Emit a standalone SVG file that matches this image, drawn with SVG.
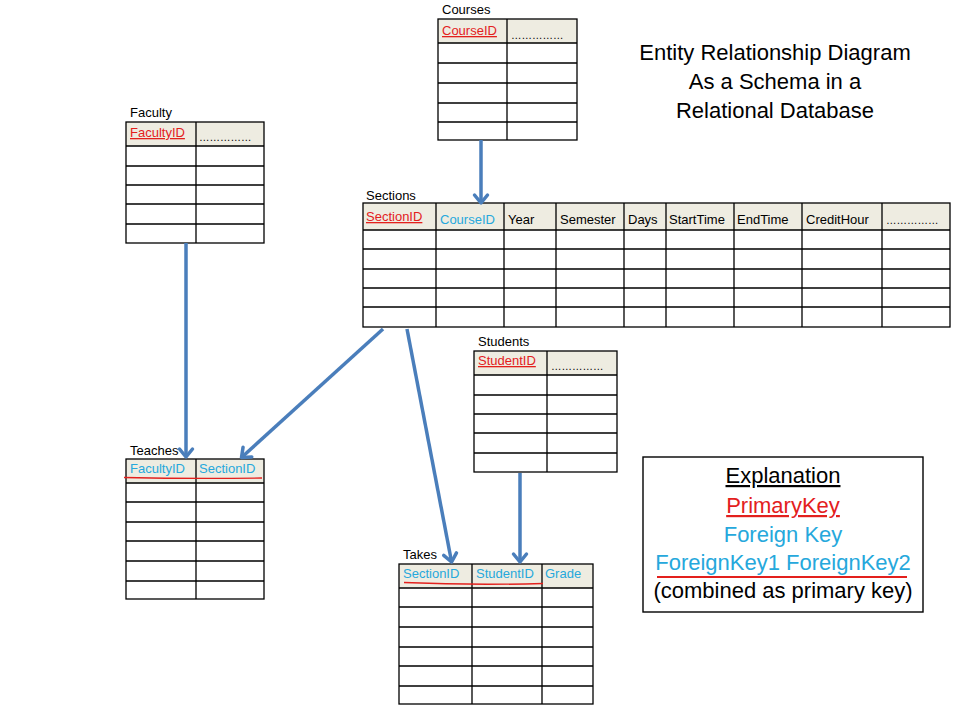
<svg xmlns="http://www.w3.org/2000/svg" width="960" height="720" viewBox="0 0 960 720">
<defs>
<style>
.t{font-family:"Liberation Sans",Arial,sans-serif;font-size:13px;fill:#000}
.d{font-size:10.5px}
.pk{fill:#E3201D;text-decoration:underline}
.fk{fill:#26A8DC}
.hd{fill:#EEECE1;stroke:none}
.g{fill:none;stroke:#000;stroke-width:1.3}
.big{font-family:"Liberation Sans",Arial,sans-serif;font-size:22px;fill:#000;text-anchor:middle}
.conn{fill:none;stroke:#4A7EBB;stroke-width:3.5;marker-end:url(#arr)}
.red{fill:none;stroke:#E3201D;stroke-width:1.4}
</style>
<marker id="arr" markerUnits="userSpaceOnUse" markerWidth="24" markerHeight="24" viewBox="-12 -12 24 24" refX="0" refY="0" orient="auto" overflow="visible">
<path d="M-8,-6.5 L0,0 L-8,6.5" fill="none" stroke="#4A7EBB" stroke-width="3.5" stroke-linecap="round" stroke-linejoin="round"/>
</marker>
</defs>
<rect width="960" height="720" fill="#fff"/>

<g id="title">
<text class="big" x="775" y="60">Entity Relationship Diagram</text>
<text class="big" x="775" y="89">As a Schema in a</text>
<text class="big" x="775" y="118">Relational Database</text>
</g>

<g id="courses">
<text class="t" x="442" y="14">Courses</text>
<rect class="hd" x="438" y="19" width="139" height="24"/>
<rect class="g" x="438" y="19" width="139" height="121"/>
<path class="g" d="M507,19V140M438,43H577M438,63H577M438,83H577M438,103H577M438,122H577"/>
<text class="t pk" x="442" y="35">CourseID</text>
<text class="t d" x="511" y="39">……………</text>
</g>

<g id="faculty">
<text class="t" x="130" y="117">Faculty</text>
<rect class="hd" x="126" y="122" width="138" height="24"/>
<rect class="g" x="126" y="122" width="138" height="121"/>
<path class="g" d="M196,122V243M126,146H264M126,166H264M126,185H264M126,204H264M126,224H264"/>
<text class="t pk" x="130" y="137">FacultyID</text>
<text class="t d" x="199" y="141">……………</text>
</g>

<g id="sections">
<text class="t" x="366" y="200">Sections</text>
<rect class="hd" x="363" y="203" width="587" height="27"/>
<rect class="g" x="363" y="203" width="587" height="124"/>
<path class="g" d="M436,203V327M504,203V327M556,203V327M624,203V327M666,203V327M734,203V327M802,203V327M882,203V327M363,230H950M363,249H950M363,269H950M363,288H950M363,307H950"/>
<text class="t pk" x="366" y="221">SectionID</text>
<text class="t fk" x="440" y="224">CourseID</text>
<text class="t" x="508" y="224">Year</text>
<text class="t" x="560" y="224">Semester</text>
<text class="t" x="628" y="224">Days</text>
<text class="t" x="669" y="224">StartTime</text>
<text class="t" x="737" y="224">EndTime</text>
<text class="t" x="806" y="224">CreditHour</text>
<text class="t d" x="886" y="224">……………</text>
</g>

<g id="students">
<text class="t" x="478" y="346">Students</text>
<rect class="hd" x="474" y="351" width="143" height="24"/>
<rect class="g" x="474" y="351" width="143" height="121"/>
<path class="g" d="M547,351V472M474,375H617M474,395H617M474,414H617M474,433H617M474,453H617"/>
<text class="t pk" x="478" y="365">StudentID</text>
<text class="t d" x="551" y="370">……………</text>
</g>

<g id="teaches">
<text class="t" x="130" y="455">Teaches</text>
<rect class="hd" x="126" y="459" width="138" height="24"/>
<rect class="g" x="126" y="459" width="138" height="140"/>
<path class="g" d="M196,459V599M126,483H264M126,502H264M126,522H264M126,541H264M126,561H264M126,581H264"/>
<text class="t fk" x="130" y="473">FacultyID</text>
<text class="t fk" x="199" y="473">SectionID</text>
<path class="red" d="M124,477.5 Q193,479 262,478"/>
</g>

<g id="takes">
<text class="t" x="403" y="559">Takes</text>
<rect class="hd" x="399" y="564" width="194" height="24"/>
<rect class="g" x="399" y="564" width="194" height="140"/>
<path class="g" d="M472,564V704M542,564V704M399,588H593M399,607H593M399,627H593M399,647H593M399,666H593M399,686H593"/>
<text class="t fk" x="403" y="578">SectionID</text>
<text class="t fk" x="476" y="578">StudentID</text>
<text class="t fk" x="545" y="578">Grade</text>
<path class="red" d="M404,582.5 Q473,585.5 543,583.5"/>
</g>

<g id="explanation">
<rect x="643" y="457" width="280" height="155" fill="#fff" stroke="#000" stroke-width="1.4"/>
<text class="big" x="783" y="483" text-decoration="underline">Explanation</text>
<text class="big" x="783" y="513" style="fill:#E3201D" text-decoration="underline">PrimaryKey</text>
<text class="big" x="783" y="542" style="fill:#26A8DC">Foreign Key</text>
<text class="big" x="783" y="570" style="fill:#26A8DC">ForeignKey1 ForeignKey2</text>
<path d="M657,577H907" stroke="#E3201D" stroke-width="2" fill="none"/>
<text class="big" x="783" y="598">(combined as primary key)</text>
</g>

<g id="connectors">
<path class="conn" d="M481,140V203"/>
<path class="conn" d="M186,243V457"/>
<path class="conn" d="M383,329L241.5,457.5"/>
<path class="conn" d="M407,329L451.6,562"/>
<path class="conn" d="M520,473V562"/>
</g>
</svg>
